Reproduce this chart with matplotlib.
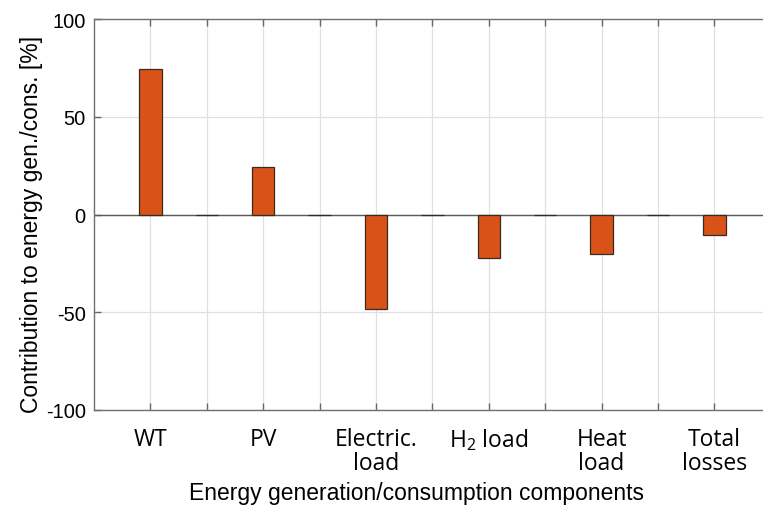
import matplotlib
matplotlib.use("Agg")
import matplotlib.pyplot as plt
import numpy as np

# Data
positions = [1, 2, 3, 4, 5, 6, 7, 8, 9, 10, 11]
values = [74.5, 0, 24.5, 0, -48.5, 0, -22.5, 0, -20, 0, -10.5]
tick_labels = ["WT", "", "PV", "", "Electric.\nload", "", "H$_2$ load", "", "Heat\nload", "", "Total\nlosses"]
ylabel = "Contribution to energy gen./cons. [%]"
xlabel = "Energy generation/consumption components"

plt.rcParams['mathtext.fontset'] = 'custom'
plt.rcParams['mathtext.rm'] = 'Open Sans'
plt.rcParams['mathtext.it'] = 'Open Sans'

fig = plt.figure(figsize=(7.63, 5.06), dpi=100)
ax = fig.add_axes([94/763, 95/506, 676.8/763, 391/506])

ax.set_axisbelow(True)
ax.grid(True, color='#e0e0e0', linewidth=0.9)
ax.axhline(0, color='#5a5a5a', linewidth=1.0, zorder=1)
ax.bar(positions, values, width=0.4, color='#D95319', edgecolor='#3a2a20', linewidth=0.9, zorder=2)

ax.set_xlim(0, 12)
ax.set_ylim(-100, 100)
ax.set_xticks(positions)
ax.set_xticklabels(tick_labels, fontfamily='Open Sans', fontsize=16.5, linespacing=1.0)
ax.set_yticks([-100, -50, 0, 50, 100])
ax.set_yticklabels(["-100", "-50", "0", "50", "100"], fontfamily='Liberation Sans', fontsize=14.5)

ax.tick_params(axis='x', direction='in', length=5, top=True, width=1, color='#666666', pad=12)
ax.tick_params(axis='y', direction='in', length=5, right=False, width=1, color='#666666', pad=6)

for s in ax.spines.values():
    s.set_color('#707070')
    s.set_linewidth(1.0)

ax.set_ylabel(ylabel, fontfamily='Liberation Sans', fontsize=16.5)
ax.set_xlabel(xlabel, fontfamily='Liberation Sans', fontsize=16.5)
ax.yaxis.set_label_coords(-0.076, 0.476)
ax.xaxis.set_label_coords(0.477, -0.182)
ax.xaxis.label.set_va('top')

fig.savefig("out.png", dpi=100)
